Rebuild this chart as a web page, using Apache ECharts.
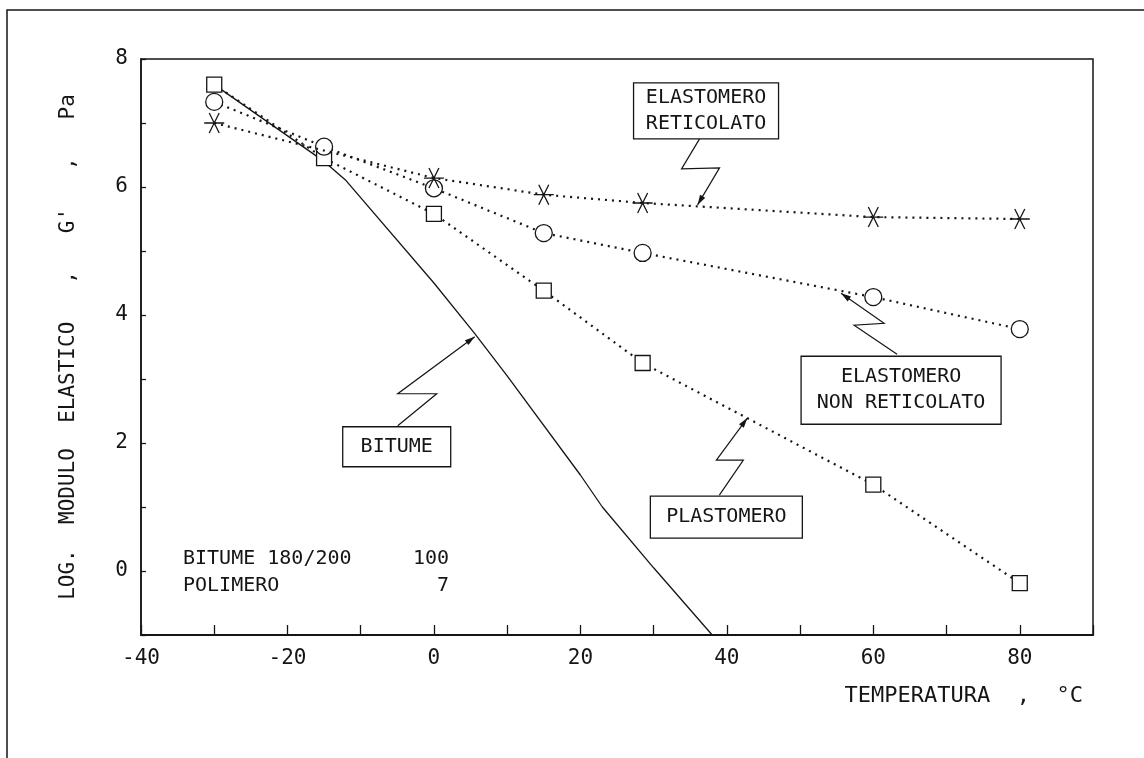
<!DOCTYPE html>
<html>
<head>
<meta charset="utf-8">
<script src="https://cdn.jsdelivr.net/npm/echarts@6/dist/echarts.min.js"></script>
<style>
  html, body { margin: 0; padding: 0; background: #fff; }
  #chart { width: 1144px; height: 758px; }
</style>
</head>
<body>
<div id="chart"></div>
<script>
// values
const temps = [-30, -15, 0, 15, 28.5, 60, 80]
const plastomero = [7.6, 6.45, 5.58, 4.38, 3.25, 1.35, -0.19]
const elastNonReticolato = [7.33, 6.63, 5.98, 5.28, 4.97, 4.28, 3.78]
const tempsReticolato = [-30, 0, 15, 28.5, 60, 80]
const elastReticolato = [7.0, 6.14, 5.88, 5.75, 5.53, 5.5]
const tempsBitume = [-30, -15, -12, 0, 5.5, 10, 20, 23, 30, 38]
const bitume = [7.6, 6.4, 6.1, 4.5, 3.72, 3.05, 1.5, 1.0, 0.05, -1.0]
const recipeNames = ['BITUME 180/200', 'POLIMERO']
const recipeParts = ['100', '7']

const zip = (xs, ys) => xs.map((x, i) => [x, ys[i]])

const ink = '#151515'
const mono = "'DejaVu Sans Mono', monospace"
const dots = { color: ink, width: 2.2, type: [2, 5] }
const asterisk = 'path://M0,10L20,10M5,0L15,20M15,0L5,20'

const chart = echarts.init(document.getElementById('chart'))

chart.setOption({
  animation: false,
  backgroundColor: '#fff',
  grid: { left: 141, right: 51, top: 59, bottom: 123, show: true, borderColor: ink, borderWidth: 1.5 },
  xAxis: {
    type: 'value',
    min: -40,
    max: 90,
    interval: 10,
    name: 'TEMPERATURA  ,  °C',
    nameLocation: 'end',
    nameGap: -10,
    nameTextStyle: { color: ink, fontFamily: mono, fontSize: 22, align: 'right', verticalAlign: 'top', padding: [50, 0, 0, 0] },
    axisLine: { onZero: false, lineStyle: { color: ink, width: 2 } },
    axisTick: { inside: true, length: 10, lineStyle: { color: ink, width: 1.3 } },
    axisLabel: {
      color: ink, fontFamily: mono, fontSize: 21, margin: 13,
      formatter: (v) => (v % 20 === 0 ? v : ''),
    },
    splitLine: { show: false },
  },
  yAxis: {
    type: 'value',
    min: -1,
    max: 8,
    interval: 1,
    name: "LOG.  MODULO  ELASTICO   ,   G'   ,   Pa",
    nameLocation: 'middle',
    nameGap: 62,
    nameTextStyle: { color: ink, fontFamily: mono, fontSize: 21 },
    axisLine: { onZero: false, lineStyle: { color: ink, width: 1.5 } },
    axisTick: { inside: true, length: 5, lineStyle: { color: ink, width: 1.3 } },
    axisLabel: {
      color: ink, fontFamily: mono, fontSize: 21, margin: 13,
      formatter: (v) => (v >= 0 && v % 2 === 0 ? v : ''),
    },
    splitLine: { show: false },
  },
  series: [
    {
      name: 'BITUME',
      type: 'line',
      data: zip(tempsBitume, bitume),
      symbol: 'none',
      lineStyle: { color: ink, width: 1.3 },
      z: 2,
    },
    {
      name: 'PLASTOMERO',
      type: 'line',
      data: zip(temps, plastomero),
      symbol: 'rect',
      symbolSize: 15,
      itemStyle: { color: '#fff', borderColor: ink, borderWidth: 1.3 },
      lineStyle: dots,
      z: 3,
    },
    {
      name: 'ELASTOMERO NON RETICOLATO',
      type: 'line',
      data: zip(temps, elastNonReticolato),
      symbol: 'circle',
      symbolSize: 17,
      itemStyle: { color: '#fff', borderColor: ink, borderWidth: 1.3 },
      lineStyle: dots,
      z: 4,
    },
    {
      name: 'ELASTOMERO RETICOLATO',
      type: 'line',
      data: zip(tempsReticolato, elastReticolato),
      symbol: asterisk,
      symbolSize: 20,
      itemStyle: { color: 'rgba(0,0,0,0)', borderColor: ink, borderWidth: 1.3 },
      lineStyle: dots,
      z: 5,
    },
  ],
})

// callouts: tip in data space, zigzag and box offsets in px from the tip
const callouts = [
  { text: 'ELASTOMERO\nRETICOLATO', tip: [36, 5.72], zig: [[22, -37], [-16, -36], [2, -66]], box: [-64, -122, 145, 56] },
  { text: 'ELASTOMERO\nNON RETICOLATO', tip: [55.6, 4.34], zig: [[43, 30], [13, 32], [56, 61]], box: [-40, 63, 200, 68] },
  { text: 'PLASTOMERO', tip: [42.8, 2.39], zig: [[-31, 42], [-4, 42], [-28, 77]], box: [-97, 78, 152, 42] },
  { text: 'BITUME', tip: [5.57, 3.66], zig: [[-77, 57], [-38, 57], [-77, 89]], box: [-132, 90, 108, 40] },
]

const graphic = [
  // page frame
  { type: 'polyline', shape: { points: [[7, 758], [7, 10], [1144, 10]] }, style: { stroke: ink, lineWidth: 1.5, fill: null } },
]

callouts.forEach((c) => {
  const [tx, ty] = chart.convertToPixel({ gridIndex: 0 }, c.tip)
  const pts = [[tx, ty]].concat(c.zig.map(([dx, dy]) => [tx + dx, ty + dy]))
  graphic.push({ type: 'polyline', z: 10, shape: { points: pts }, style: { stroke: ink, lineWidth: 1.2, fill: null } })
  // arrow head
  const [px, py] = pts[1]
  const len = Math.hypot(tx - px, ty - py)
  const ux = (tx - px) / len
  const uy = (ty - py) / len
  const bx = tx - ux * 10
  const by = ty - uy * 10
  graphic.push({
    type: 'polygon', z: 10,
    shape: { points: [[tx, ty], [bx - uy * 3, by + ux * 3], [bx + uy * 3, by - ux * 3]] },
    style: { fill: ink },
  })
  const [bx0, by0, bw, bh] = c.box
  graphic.push({
    type: 'rect', z: 10,
    shape: { x: tx + bx0, y: ty + by0, width: bw, height: bh },
    style: { fill: '#fff', stroke: ink, lineWidth: 1.3 },
  })
  graphic.push({
    type: 'text', z: 11,
    style: {
      x: tx + bx0 + bw / 2, y: ty + by0 + bh / 2,
      text: c.text, align: 'center', verticalAlign: 'middle',
      font: '20px ' + mono, fill: ink, lineHeight: 26,
    },
  })
})

recipeNames.forEach((name, i) => {
  const y = 559 + i * 27
  graphic.push({ type: 'text', style: { x: 183, y, text: name, verticalAlign: 'middle', font: '20px ' + mono, fill: ink } })
  graphic.push({ type: 'text', style: { x: 449, y, text: recipeParts[i], align: 'right', verticalAlign: 'middle', font: '20px ' + mono, fill: ink } })
})

chart.setOption({ graphic })
</script>
</body>
</html>
